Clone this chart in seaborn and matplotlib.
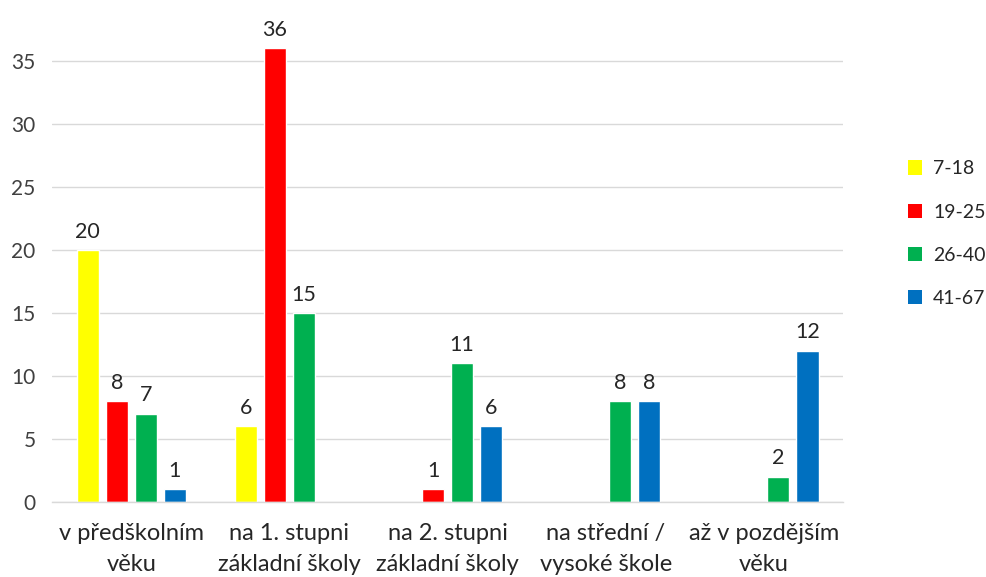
import matplotlib
matplotlib.use("Agg")
import matplotlib.pyplot as plt
import seaborn as sns
import pandas as pd
from matplotlib.patches import Patch

categories = ["v předškolním\nvěku", "na 1. stupni\nzákladní školy", "na 2. stupni\nzákladní školy",
              "na střední /\nvysoké škole", "až v pozdějším\nvěku"]
series = ["7-18", "19-25", "26-40", "41-67"]
values = {
    "7-18":  [20, 6, 0, 0, 0],
    "19-25": [8, 36, 1, 0, 0],
    "26-40": [7, 15, 11, 8, 2],
    "41-67": [1, 0, 6, 8, 12],
}
colors = ["#FFFF00", "#FF0000", "#00B050", "#0070C0"]
yticks = [0, 5, 10, 15, 20, 25, 30, 35]

rows = []
for s in series:
    for c, v in zip(categories, values[s]):
        rows.append({"cat": c, "group": s, "val": v})
df = pd.DataFrame(rows)

sns.set_theme(style="white")
plt.rcParams['font.family'] = ['Lato', 'DejaVu Sans']

fig = plt.figure(figsize=(9.86, 5.77), dpi=100)
ax = fig.add_axes([0.053, 0.13, 0.802, 0.87])

sns.barplot(data=df, x="cat", y="val", hue="group", order=categories, hue_order=series,
            palette=colors, width=0.734, gap=0.24, ax=ax, legend=False, errorbar=None,
            saturation=1)

for cont in ax.containers:
    labels = [f"{int(b.get_height())}" if b.get_height() > 0 else "" for b in cont]
    ax.bar_label(cont, labels=labels, padding=6, fontsize=15.5, color="#262626")

ax.set_xlim(-0.5, 4.5)
ax.set_ylim(0, 39.85)
ax.set_yticks(yticks)
ax.yaxis.grid(True, color="#D9D9D9", linewidth=1)
ax.set_axisbelow(True)
for sp in ["top", "right", "left"]:
    ax.spines[sp].set_visible(False)
ax.spines["bottom"].set_color("#D9D9D9")
ax.spines["bottom"].set_linewidth(1)
ax.set_xlabel("")
ax.set_ylabel("")
ax.tick_params(axis="y", length=0, pad=12, labelsize=15, labelcolor="#404040")
ax.tick_params(axis="x", length=0, pad=15, labelsize=17, labelcolor="#262626")
for t in ax.get_xticklabels():
    t.set_linespacing(1.6)

handles = [Patch(facecolor=c, edgecolor="none") for c in colors]
fig.legend(handles, series, loc="center left", bbox_to_anchor=(0.903, 0.595), frameon=False,
           fontsize=14, handlelength=0.75, handleheight=0.75, labelspacing=1.35,
           handletextpad=0.55, labelcolor="#262626")

fig.savefig("out.png", dpi=100)
